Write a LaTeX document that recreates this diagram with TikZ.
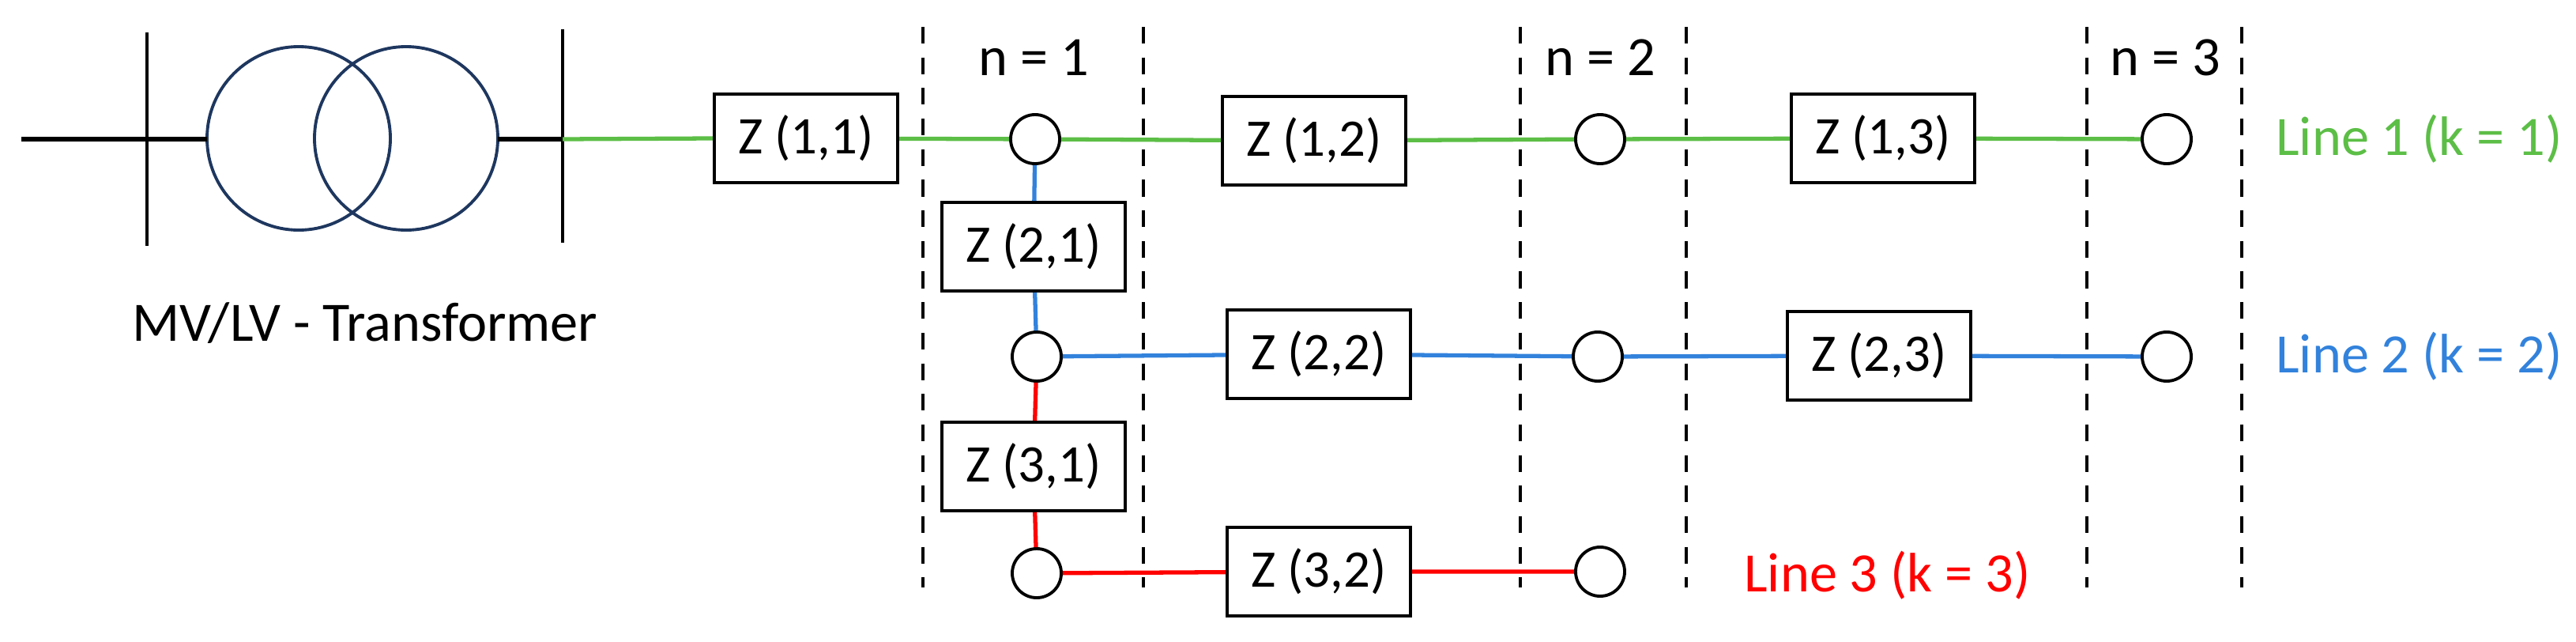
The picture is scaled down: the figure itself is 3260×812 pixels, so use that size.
\documentclass[tikz,border=0pt]{standalone}
\usepackage{fontspec}
\setmainfont{Carlito}
\begin{document}
\begin{tikzpicture}[x=0.01cm,y=-0.01cm,
  zbox/.style={draw,line width=1.1pt,minimum width=2.32cm,minimum height=1.12cm,inner sep=0pt,font=\fontsize{19}{22}\selectfont},
  bus/.style={circle,draw,line width=1.1pt,minimum size=0.62cm,inner sep=0pt},
  lbl/.style={font=\fontsize{20}{24}\selectfont},
  sep/.style={dashed,line width=0.9pt,dash pattern=on 6pt off 5pt},
  g/.style={line width=1.5pt,draw={rgb,255:red,92;green,190;blue,70}},
  b/.style={line width=1.5pt,draw={rgb,255:red,50;green,130;blue,220}},
  r/.style={line width=1.5pt,draw={rgb,255:red,255;green,0;blue,0}}]
\useasboundingbox (0,0) rectangle (3260,812);
% transformer
\coordinate (l0) at (27,176);
\coordinate (bA) at (186,176);
\coordinate (bB) at (712,176);
\draw[line width=1.1pt] (186,41) -- (186,311);
\draw[line width=1.1pt] (712,37) -- (712,307);
\draw[line width=1.1pt,draw={rgb,255:red,30;green,55;blue,95}] (378,175) circle[radius=116];
\draw[line width=1.1pt,draw={rgb,255:red,30;green,55;blue,95}] (514,175) circle[radius=116];
\draw[line width=1.6pt] (l0) -- (262,176);
\draw[line width=1.6pt] (630,176) -- (bB);
\node[lbl] (tr) at (462,409) {MV/LV - Transformer};
% separators
\foreach \x/\n in {1168/d1,1447/d2,1924/d3,2134/d4,2641/d5,2837/d6}
  \draw[sep] (\x,34) -- (\x,743);
\node[lbl] (n1) at (1308,73) {n = 1};
\node[lbl] (n2) at (2025,73) {n = 2};
\node[lbl] (n3) at (2740,73) {n = 3};
% nodes
\node[zbox] (z11) at (1020,175) {Z (1,1)};
\node[zbox] (z12) at (1663,178) {Z (1,2)};
\node[zbox] (z13) at (2383,175) {Z (1,3)};
\node[zbox] (z21) at (1308,312) {Z (2,1)};
\node[zbox] (z22) at (1669,448) {Z (2,2)};
\node[zbox] (z23) at (2378,450) {Z (2,3)};
\node[zbox] (z31) at (1308,590) {Z (3,1)};
\node[zbox] (z32) at (1669,723) {Z (3,2)};
\node[bus] (c11) at (1310,176) {};
\node[bus] (c12) at (2025,176) {};
\node[bus] (c13) at (2742,176) {};
\node[bus] (c21) at (1312,451) {};
\node[bus] (c22) at (2022,451) {};
\node[bus] (c23) at (2742,451) {};
\node[bus] (c31) at (1312,725) {};
\node[bus] (c32) at (2025,723) {};
% connectors
\draw[g] (bB) -- (z11.west);
\draw[g] (z11) -- (c11) -- (z12) -- (c12) -- (z13) -- (c13);
\draw[b] (c11) -- (z21) -- (c21);
\draw[b] (c21) -- (z22) -- (c22) -- (z23) -- (c23);
\draw[r] (c21) -- (z31) -- (c31);
\draw[r] (c31) -- (z32) -- (c32);
% labels
\node[lbl,text={rgb,255:red,92;green,190;blue,70},anchor=west] (L1) at (2868,176) {Line 1 (k = 1)};
\node[lbl,text={rgb,255:red,50;green,130;blue,220},anchor=west] (L2) at (2868,451) {Line 2 (k = 2)};
\node[lbl,text={rgb,255:red,255;green,0;blue,0},anchor=west] (L3) at (2195,728) {Line 3 (k = 3)};
\end{tikzpicture}
\end{document}
